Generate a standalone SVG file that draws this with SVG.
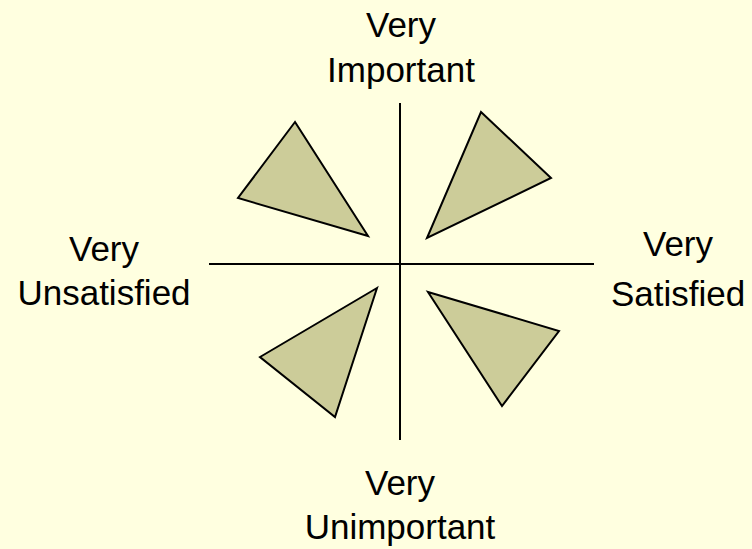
<svg xmlns="http://www.w3.org/2000/svg" width="752" height="549" viewBox="0 0 752 549">
<style>
.lbl{font-family:"Liberation Sans",Arial,sans-serif;font-size:35px;fill:#000;text-anchor:middle}
.tri{fill:#CCCC99;stroke:#000;stroke-width:2;stroke-linejoin:miter}
.axis{stroke:#000;stroke-width:2;fill:none}
</style>
<rect width="752" height="549" fill="#FFFFE0"/>
<g id="connectors">
<line class="axis" x1="209" y1="264" x2="594" y2="264"/>
<line class="axis" x1="400" y1="103" x2="400" y2="440"/>
</g>
<g id="tri-top-left"><polygon class="tri" points="295,122 238,198 368,236"/></g>
<g id="tri-top-right"><polygon class="tri" points="481,112 551,178 427,238"/></g>
<g id="tri-bottom-left"><polygon class="tri" points="377,288 260,357 335,417"/></g>
<g id="tri-bottom-right"><polygon class="tri" points="428,292 559,331 502,406"/></g>
<g id="label-top"><text class="lbl" x="401" y="37">Very</text><text class="lbl" x="401" y="82">Important</text></g>
<g id="label-left"><text class="lbl" x="104" y="261">Very</text><text class="lbl" x="104" y="305">Unsatisfied</text></g>
<g id="label-right"><text class="lbl" x="678" y="256">Very</text><text class="lbl" x="678" y="306">Satisfied</text></g>
<g id="label-bottom"><text class="lbl" x="400" y="495">Very</text><text class="lbl" x="400" y="539">Unimportant</text></g>
</svg>
